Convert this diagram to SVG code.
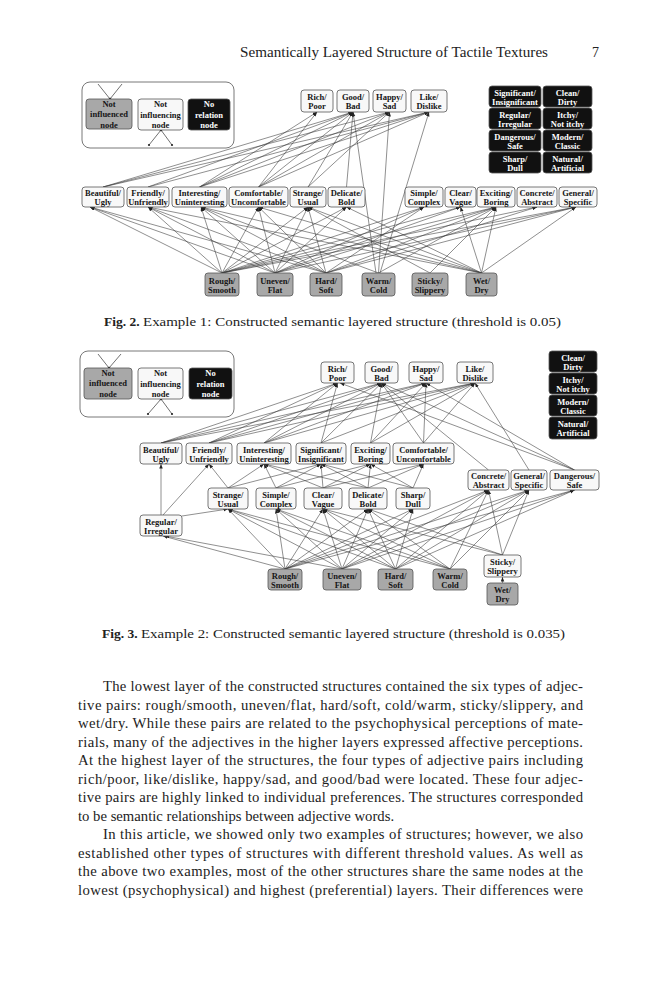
<svg xmlns="http://www.w3.org/2000/svg" width="659" height="1000" viewBox="0 0 659 1000">
<style>
.bg{fill:#ffffff}
.n rect{stroke:#555;stroke-width:0.8}
.w rect{fill:#f8f8f8}
.g rect{fill:#a8a8a8}
.k rect{fill:#111111}
.n text{font-family:"Liberation Serif",serif;font-weight:bold;font-size:8.5px;text-anchor:middle;fill:#151515}
.k text{fill:#ffffff}
.lg{fill:#ffffff;stroke:#555;stroke-width:0.8}
.e line{stroke:#333;stroke-width:0.55;marker-end:url(#ah)}
.lgl line{stroke:#333;stroke-width:0.7}
.lgl circle{fill:#222}
.hd{font-family:"Liberation Serif",serif;font-size:14px;fill:#222}
.cap{font-family:"Liberation Serif",serif;font-size:13.5px;fill:#222}
.cap .b{font-weight:bold}
.body{font-family:"Liberation Serif",serif;font-size:14.7px;fill:#222}
</style>
<defs>
<marker id="ah" markerUnits="userSpaceOnUse" markerWidth="5" markerHeight="4" refX="4.5" refY="1.75" orient="auto">
<path d="M0,0 L4.5,1.75 L0,3.5 z" fill="#222"/>
</marker>
</defs>
<rect class="bg" x="0" y="0" width="659" height="1000"/>

<text class="hd" x="240" y="57" textLength="308" lengthAdjust="spacingAndGlyphs">Semantically Layered Structure of Tactile Textures</text>
<text class="hd" x="592" y="57">7</text>

<!-- ================= FIG 2 ================= -->
<g id="f2-legend">
<rect class="lg" x="82" y="82" width="152" height="66" rx="8"/>
<g class="lgl">
<line x1="98" y1="84" x2="110" y2="99"/><line x1="122" y1="84" x2="110" y2="99"/>
<circle cx="110" cy="99" r="1.3"/>
<line x1="161" y1="130" x2="149" y2="145"/><line x1="161" y1="130" x2="172" y2="145"/>
<circle cx="161" cy="130" r="1.3"/><circle cx="149" cy="145" r="1.1"/><circle cx="172" cy="145" r="1.1"/>
</g>
<g id="f2-leg-gray" class="n g"><rect x="86" y="99" width="46" height="30" rx="3"/><text x="109" y="106.5">Not<tspan x="109" y="117">influenced</tspan><tspan x="109" y="127.5">node</tspan></text></g>
<g id="f2-leg-white" class="n w"><rect x="138" y="99" width="45" height="31" rx="3"/><text x="160.5" y="107">Not<tspan x="160.5" y="117.5">influencing</tspan><tspan x="160.5" y="128">node</tspan></text></g>
<g id="f2-leg-black" class="n k"><rect x="188" y="99" width="42" height="31" rx="3"/><text x="209" y="107">No<tspan x="209" y="117.5">relation</tspan><tspan x="209" y="128">node</tspan></text></g>
</g>

<g id="f2-edges" class="e">
<line x1="199.5" y1="187" x2="317" y2="112"/>
<line x1="258.5" y1="187" x2="317" y2="112"/>
<line x1="103" y1="187" x2="353" y2="112"/>
<line x1="148" y1="187" x2="353" y2="112"/>
<line x1="199.5" y1="187" x2="353" y2="112"/>
<line x1="258.5" y1="187" x2="353" y2="112"/>
<line x1="308" y1="187" x2="353" y2="112"/>
<line x1="346.5" y1="187" x2="353" y2="112"/>
<line x1="376" y1="273" x2="353" y2="112"/>
<line x1="103" y1="187" x2="389.5" y2="112"/>
<line x1="199.5" y1="187" x2="389.5" y2="112"/>
<line x1="258.5" y1="187" x2="389.5" y2="112"/>
<line x1="308" y1="187" x2="389.5" y2="112"/>
<line x1="378.5" y1="273" x2="389.5" y2="112"/>
<line x1="103" y1="187" x2="429" y2="112"/>
<line x1="148" y1="187" x2="429" y2="112"/>
<line x1="199.5" y1="187" x2="429" y2="112"/>
<line x1="258.5" y1="187" x2="429" y2="112"/>
<line x1="380" y1="273" x2="429" y2="112"/>

<line x1="222" y1="273" x2="90" y2="207"/>
<line x1="275" y1="273" x2="90" y2="207"/>
<line x1="326" y1="273" x2="90" y2="207"/>
<line x1="222" y1="273" x2="148" y2="207"/>
<line x1="275" y1="273" x2="148" y2="207"/>
<line x1="326" y1="273" x2="148" y2="207"/>
<line x1="481.5" y1="273" x2="148" y2="207"/>
<line x1="222" y1="273" x2="201" y2="207"/>
<line x1="275" y1="273" x2="201" y2="207"/>
<line x1="326" y1="273" x2="201" y2="207"/>
<line x1="378.5" y1="273" x2="201" y2="207"/>
<line x1="481.5" y1="273" x2="201" y2="207"/>
<line x1="222" y1="273" x2="258.5" y2="207"/>
<line x1="275" y1="273" x2="258.5" y2="207"/>
<line x1="326" y1="273" x2="258.5" y2="207"/>
<line x1="481.5" y1="273" x2="258.5" y2="207"/>
<line x1="222" y1="273" x2="308" y2="207"/>
<line x1="275" y1="273" x2="308" y2="207"/>
<line x1="326" y1="273" x2="308" y2="207"/>
<line x1="430" y1="273" x2="308" y2="207"/>
<line x1="481.5" y1="273" x2="308" y2="207"/>
<line x1="222" y1="273" x2="346.5" y2="207"/>
<line x1="275" y1="273" x2="346.5" y2="207"/>
<line x1="481.5" y1="273" x2="346.5" y2="207"/>
<line x1="222" y1="273" x2="424" y2="207"/>
<line x1="275" y1="273" x2="424" y2="207"/>
<line x1="326" y1="273" x2="424" y2="207"/>
<line x1="222" y1="273" x2="460.5" y2="207"/>
<line x1="275" y1="273" x2="460.5" y2="207"/>
<line x1="481.5" y1="273" x2="460.5" y2="207"/>
<line x1="222" y1="273" x2="496" y2="207"/>
<line x1="275" y1="273" x2="496" y2="207"/>
<line x1="326" y1="273" x2="496" y2="207"/>
<line x1="378.5" y1="273" x2="496" y2="207"/>
<line x1="430" y1="273" x2="496" y2="207"/>
<line x1="481.5" y1="273" x2="496" y2="207"/>
<line x1="222" y1="273" x2="537" y2="207"/>
<line x1="326" y1="273" x2="537" y2="207"/>
<line x1="222" y1="273" x2="576" y2="207"/>
<line x1="275" y1="273" x2="576" y2="207"/>
<line x1="326" y1="273" x2="576" y2="207"/>
<line x1="481.5" y1="273" x2="576" y2="207"/>
</g>

<g id="f2-rich" class="n w"><rect x="301" y="90" width="32" height="22" rx="3"/><text x="317" y="100">Rich/<tspan x="317" y="109">Poor</tspan></text></g>
<g id="f2-good" class="n w"><rect x="337" y="90" width="32" height="22" rx="3"/><text x="353" y="100">Good/<tspan x="353" y="109">Bad</tspan></text></g>
<g id="f2-happy" class="n w"><rect x="373" y="90" width="33" height="22" rx="3"/><text x="389.5" y="100">Happy/<tspan x="389.5" y="109">Sad</tspan></text></g>
<g id="f2-like" class="n w"><rect x="411" y="90" width="36" height="22" rx="3"/><text x="429" y="100">Like/<tspan x="429" y="109">Dislike</tspan></text></g>

<g id="f2-significant" class="n k"><rect x="489" y="86" width="52" height="21" rx="3"/><text x="515" y="95.5">Significant/<tspan x="515" y="104.5">Insignificant</tspan></text></g>
<g id="f2-clean" class="n k"><rect x="543" y="86" width="49" height="21" rx="3"/><text x="567.5" y="95.5">Clean/<tspan x="567.5" y="104.5">Dirty</tspan></text></g>
<g id="f2-regular" class="n k"><rect x="489" y="108" width="52" height="21" rx="3"/><text x="515" y="117.5">Regular/<tspan x="515" y="126.5">Irregular</tspan></text></g>
<g id="f2-itchy" class="n k"><rect x="543" y="108" width="49" height="21" rx="3"/><text x="567.5" y="117.5">Itchy/<tspan x="567.5" y="126.5">Not itchy</tspan></text></g>
<g id="f2-dangerous" class="n k"><rect x="489" y="130" width="52" height="21" rx="3"/><text x="515" y="139.5">Dangerous/<tspan x="515" y="148.5">Safe</tspan></text></g>
<g id="f2-modern" class="n k"><rect x="543" y="130" width="49" height="21" rx="3"/><text x="567.5" y="139.5">Modern/<tspan x="567.5" y="148.5">Classic</tspan></text></g>
<g id="f2-sharp" class="n k"><rect x="489" y="152" width="52" height="21" rx="3"/><text x="515" y="161.5">Sharp/<tspan x="515" y="170.5">Dull</tspan></text></g>
<g id="f2-natural" class="n k"><rect x="543" y="152" width="49" height="21" rx="3"/><text x="567.5" y="161.5">Natural/<tspan x="567.5" y="170.5">Artificial</tspan></text></g>

<g id="f2-beautiful" class="n w"><rect x="82" y="187" width="42" height="20" rx="3"/><text x="103" y="196">Beautiful/<tspan x="103" y="205">Ugly</tspan></text></g>
<g id="f2-friendly" class="n w"><rect x="127" y="187" width="42" height="20" rx="3"/><text x="148" y="196">Friendly/<tspan x="148" y="205">Unfriendly</tspan></text></g>
<g id="f2-interesting" class="n w"><rect x="172" y="187" width="55" height="20" rx="3"/><text x="199.5" y="196">Interesting/<tspan x="199.5" y="205">Uninteresting</tspan></text></g>
<g id="f2-comfortable" class="n w"><rect x="229" y="187" width="59" height="20" rx="3"/><text x="258.5" y="196">Comfortable/<tspan x="258.5" y="205">Uncomfortable</tspan></text></g>
<g id="f2-strange" class="n w"><rect x="290" y="187" width="36" height="20" rx="3"/><text x="308" y="196">Strange/<tspan x="308" y="205">Usual</tspan></text></g>
<g id="f2-delicate" class="n w"><rect x="328" y="187" width="37" height="20" rx="3"/><text x="346.5" y="196">Delicate/<tspan x="346.5" y="205">Bold</tspan></text></g>
<g id="f2-simple" class="n w"><rect x="405" y="187" width="38" height="20" rx="3"/><text x="424" y="196">Simple/<tspan x="424" y="205">Complex</tspan></text></g>
<g id="f2-clear" class="n w"><rect x="445" y="187" width="31" height="20" rx="3"/><text x="460.5" y="196">Clear/<tspan x="460.5" y="205">Vague</tspan></text></g>
<g id="f2-exciting" class="n w"><rect x="477" y="187" width="38" height="20" rx="3"/><text x="496" y="196">Exciting/<tspan x="496" y="205">Boring</tspan></text></g>
<g id="f2-concrete" class="n w"><rect x="517" y="187" width="40" height="20" rx="3"/><text x="537" y="196">Concrete/<tspan x="537" y="205">Abstract</tspan></text></g>
<g id="f2-general" class="n w"><rect x="559" y="187" width="38" height="20" rx="3"/><text x="578" y="196">General/<tspan x="578" y="205">Specific</tspan></text></g>

<g id="f2-rough" class="n g"><rect x="205" y="273" width="34" height="23" rx="3"/><text x="222" y="283.5">Rough/<tspan x="222" y="292.5">Smooth</tspan></text></g>
<g id="f2-uneven" class="n g"><rect x="257" y="273" width="36" height="23" rx="3"/><text x="275" y="283.5">Uneven/<tspan x="275" y="292.5">Flat</tspan></text></g>
<g id="f2-hard" class="n g"><rect x="310" y="273" width="32" height="23" rx="3"/><text x="326" y="283.5">Hard/<tspan x="326" y="292.5">Soft</tspan></text></g>
<g id="f2-warm" class="n g"><rect x="362" y="273" width="33" height="23" rx="3"/><text x="378.5" y="283.5">Warm/<tspan x="378.5" y="292.5">Cold</tspan></text></g>
<g id="f2-sticky" class="n g"><rect x="412" y="273" width="36" height="23" rx="3"/><text x="430" y="283.5">Sticky/<tspan x="430" y="292.5">Slippery</tspan></text></g>
<g id="f2-wet" class="n g"><rect x="466" y="273" width="31" height="23" rx="3"/><text x="481.5" y="283.5">Wet/<tspan x="481.5" y="292.5">Dry</tspan></text></g>

<text class="cap" x="104" y="326"><tspan class="b">Fig. 2.</tspan> <tspan textLength="418" lengthAdjust="spacingAndGlyphs">Example 1: Constructed semantic layered structure (threshold is 0.05)</tspan></text>

<!-- ================= FIG 3 ================= -->
<g id="f3-legend">
<rect class="lg" x="80" y="351" width="154" height="66" rx="8"/>
<g class="lgl">
<line x1="98" y1="354" x2="109" y2="368"/><line x1="121" y1="354" x2="109" y2="368"/>
<circle cx="109" cy="368" r="1.3"/>
<line x1="161" y1="399" x2="148" y2="414"/><line x1="161" y1="399" x2="172" y2="414"/>
<circle cx="161" cy="399" r="1.3"/><circle cx="148" cy="414" r="1.1"/><circle cx="172" cy="414" r="1.1"/>
</g>
<g id="f3-leg-gray" class="n g"><rect x="84" y="368" width="48" height="31" rx="3"/><text x="108" y="375.5">Not<tspan x="108" y="386">influenced</tspan><tspan x="108" y="396.5">node</tspan></text></g>
<g id="f3-leg-white" class="n w"><rect x="138" y="368" width="45" height="31" rx="3"/><text x="160.5" y="376">Not<tspan x="160.5" y="386.5">influencing</tspan><tspan x="160.5" y="397">node</tspan></text></g>
<g id="f3-leg-black" class="n k"><rect x="189" y="368" width="43" height="31" rx="3"/><text x="210.5" y="376">No<tspan x="210.5" y="386.5">relation</tspan><tspan x="210.5" y="397">node</tspan></text></g>
</g>

<g id="f3-edges" class="e">
<line x1="161" y1="443" x2="337.5" y2="383"/>
<line x1="209" y1="443" x2="337.5" y2="383"/>
<line x1="264" y1="443" x2="337.5" y2="383"/>
<line x1="321" y1="443" x2="337.5" y2="383"/>
<line x1="574.5" y1="470" x2="340" y2="383"/>
<line x1="161" y1="443" x2="381.5" y2="383"/>
<line x1="209" y1="443" x2="381.5" y2="383"/>
<line x1="264" y1="443" x2="381.5" y2="383"/>
<line x1="321" y1="443" x2="381.5" y2="383"/>
<line x1="370.5" y1="443" x2="381.5" y2="383"/>
<line x1="423.5" y1="443" x2="381.5" y2="383"/>
<line x1="488.5" y1="470" x2="381.5" y2="383"/>
<line x1="574.5" y1="470" x2="381.5" y2="383"/>
<line x1="161" y1="443" x2="426" y2="383"/>
<line x1="209" y1="443" x2="426" y2="383"/>
<line x1="264" y1="443" x2="426" y2="383"/>
<line x1="370.5" y1="443" x2="426" y2="383"/>
<line x1="423.5" y1="443" x2="426" y2="383"/>
<line x1="574.5" y1="470" x2="426" y2="383"/>
<line x1="161" y1="443" x2="475" y2="383"/>
<line x1="209" y1="443" x2="475" y2="383"/>
<line x1="264" y1="443" x2="475" y2="383"/>
<line x1="321" y1="443" x2="475" y2="383"/>
<line x1="370.5" y1="443" x2="475" y2="383"/>
<line x1="423.5" y1="443" x2="475" y2="383"/>
<line x1="529" y1="470" x2="475" y2="383"/>

<line x1="161" y1="515" x2="161" y2="464"/>
<line x1="163" y1="515" x2="209" y2="464"/>
<line x1="228" y1="488" x2="209" y2="464"/>
<line x1="228" y1="488" x2="264" y2="464"/>
<line x1="276" y1="488" x2="264" y2="464"/>
<line x1="323" y1="488" x2="264" y2="464"/>
<line x1="368" y1="488" x2="264" y2="464"/>
<line x1="228" y1="488" x2="321" y2="464"/>
<line x1="276" y1="488" x2="321" y2="464"/>
<line x1="323" y1="488" x2="321" y2="464"/>
<line x1="368" y1="488" x2="321" y2="464"/>
<line x1="413" y1="488" x2="321" y2="464"/>
<line x1="276" y1="488" x2="370.5" y2="464"/>
<line x1="323" y1="488" x2="370.5" y2="464"/>
<line x1="368" y1="488" x2="370.5" y2="464"/>
<line x1="413" y1="488" x2="370.5" y2="464"/>
<line x1="323" y1="488" x2="423.5" y2="464"/>
<line x1="368" y1="488" x2="423.5" y2="464"/>
<line x1="413" y1="488" x2="423.5" y2="464"/>

<line x1="182" y1="516" x2="228" y2="509"/>
<line x1="285" y1="569" x2="163" y2="536"/>
<line x1="342" y1="569" x2="165" y2="536"/>
<line x1="285" y1="569" x2="228" y2="509"/>
<line x1="342" y1="569" x2="228" y2="509"/>
<line x1="395.5" y1="569" x2="228" y2="509"/>
<line x1="450" y1="569" x2="228" y2="509"/>
<line x1="285" y1="569" x2="276" y2="509"/>
<line x1="342" y1="569" x2="276" y2="509"/>
<line x1="395.5" y1="569" x2="276" y2="509"/>
<line x1="450" y1="569" x2="276" y2="509"/>
<line x1="285" y1="569" x2="323" y2="509"/>
<line x1="342" y1="569" x2="323" y2="509"/>
<line x1="395.5" y1="569" x2="323" y2="509"/>
<line x1="450" y1="569" x2="323" y2="509"/>
<line x1="502.5" y1="555" x2="323" y2="509"/>
<line x1="285" y1="569" x2="368" y2="509"/>
<line x1="342" y1="569" x2="368" y2="509"/>
<line x1="395.5" y1="569" x2="368" y2="509"/>
<line x1="450" y1="569" x2="368" y2="509"/>
<line x1="502.5" y1="555" x2="368" y2="509"/>
<line x1="285" y1="569" x2="413" y2="509"/>
<line x1="342" y1="569" x2="413" y2="509"/>
<line x1="395.5" y1="569" x2="413" y2="509"/>
<line x1="285" y1="569" x2="488.5" y2="490"/>
<line x1="342" y1="569" x2="488.5" y2="490"/>
<line x1="395.5" y1="569" x2="488.5" y2="490"/>
<line x1="450" y1="569" x2="488.5" y2="490"/>
<line x1="502.5" y1="555" x2="488.5" y2="490"/>
<line x1="285" y1="569" x2="529" y2="490"/>
<line x1="342" y1="569" x2="529" y2="490"/>
<line x1="395.5" y1="569" x2="529" y2="490"/>
<line x1="450" y1="569" x2="529" y2="490"/>
<line x1="502.5" y1="555" x2="529" y2="490"/>
<line x1="285" y1="569" x2="574.5" y2="490"/>
<line x1="342" y1="569" x2="574.5" y2="490"/>
<line x1="395.5" y1="569" x2="574.5" y2="490"/>
<line x1="502.5" y1="583" x2="502.5" y2="577"/>
</g>

<g id="f3-rich" class="n w"><rect x="321" y="362" width="33" height="21" rx="3"/><text x="337.5" y="371.5">Rich/<tspan x="337.5" y="380.5">Poor</tspan></text></g>
<g id="f3-good" class="n w"><rect x="365" y="362" width="33" height="21" rx="3"/><text x="381.5" y="371.5">Good/<tspan x="381.5" y="380.5">Bad</tspan></text></g>
<g id="f3-happy" class="n w"><rect x="409" y="362" width="34" height="21" rx="3"/><text x="426" y="371.5">Happy/<tspan x="426" y="380.5">Sad</tspan></text></g>
<g id="f3-like" class="n w"><rect x="457" y="362" width="36" height="21" rx="3"/><text x="475" y="371.5">Like/<tspan x="475" y="380.5">Dislike</tspan></text></g>

<g id="f3-clean" class="n k"><rect x="549" y="351" width="48" height="21" rx="3"/><text x="573" y="360.5">Clean/<tspan x="573" y="369.5">Dirty</tspan></text></g>
<g id="f3-itchy" class="n k"><rect x="549" y="373" width="48" height="21" rx="3"/><text x="573" y="382.5">Itchy/<tspan x="573" y="391.5">Not itchy</tspan></text></g>
<g id="f3-modern" class="n k"><rect x="549" y="395" width="48" height="21" rx="3"/><text x="573" y="404.5">Modern/<tspan x="573" y="413.5">Classic</tspan></text></g>
<g id="f3-natural" class="n k"><rect x="549" y="417" width="48" height="22" rx="3"/><text x="573" y="427">Natural/<tspan x="573" y="436">Artificial</tspan></text></g>

<g id="f3-beautiful" class="n w"><rect x="140" y="443" width="42" height="21" rx="3"/><text x="161" y="452.5">Beautiful/<tspan x="161" y="461.5">Ugly</tspan></text></g>
<g id="f3-friendly" class="n w"><rect x="186" y="443" width="46" height="21" rx="3"/><text x="209" y="452.5">Friendly/<tspan x="209" y="461.5">Unfriendly</tspan></text></g>
<g id="f3-interesting" class="n w"><rect x="237" y="443" width="54" height="21" rx="3"/><text x="264" y="452.5">Interesting/<tspan x="264" y="461.5">Uninteresting</tspan></text></g>
<g id="f3-significant" class="n w"><rect x="296" y="443" width="50" height="21" rx="3"/><text x="321" y="452.5">Significant/<tspan x="321" y="461.5">Insignificant</tspan></text></g>
<g id="f3-exciting" class="n w"><rect x="351" y="443" width="39" height="21" rx="3"/><text x="370.5" y="452.5">Exciting/<tspan x="370.5" y="461.5">Boring</tspan></text></g>
<g id="f3-comfortable" class="n w"><rect x="393" y="443" width="61" height="21" rx="3"/><text x="423.5" y="452.5">Comfortable/<tspan x="423.5" y="461.5">Uncomfortable</tspan></text></g>

<g id="f3-concrete" class="n w"><rect x="468" y="470" width="41" height="20" rx="3"/><text x="488.5" y="479">Concrete/<tspan x="488.5" y="488">Abstract</tspan></text></g>
<g id="f3-general" class="n w"><rect x="511" y="470" width="36" height="20" rx="3"/><text x="529" y="479">General/<tspan x="529" y="488">Specific</tspan></text></g>
<g id="f3-dangerous" class="n w"><rect x="550" y="470" width="49" height="20" rx="3"/><text x="574.5" y="479">Dangerous/<tspan x="574.5" y="488">Safe</tspan></text></g>

<g id="f3-strange" class="n w"><rect x="208" y="488" width="40" height="21" rx="3"/><text x="228" y="497.5">Strange/<tspan x="228" y="506.5">Usual</tspan></text></g>
<g id="f3-simple" class="n w"><rect x="256" y="488" width="40" height="21" rx="3"/><text x="276" y="497.5">Simple/<tspan x="276" y="506.5">Complex</tspan></text></g>
<g id="f3-clear" class="n w"><rect x="304" y="488" width="38" height="21" rx="3"/><text x="323" y="497.5">Clear/<tspan x="323" y="506.5">Vague</tspan></text></g>
<g id="f3-delicate" class="n w"><rect x="349" y="488" width="38" height="21" rx="3"/><text x="368" y="497.5">Delicate/<tspan x="368" y="506.5">Bold</tspan></text></g>
<g id="f3-sharp" class="n w"><rect x="396" y="488" width="34" height="21" rx="3"/><text x="413" y="497.5">Sharp/<tspan x="413" y="506.5">Dull</tspan></text></g>
<g id="f3-regular" class="n w"><rect x="140" y="515" width="42" height="21" rx="3"/><text x="161" y="524.5">Regular/<tspan x="161" y="533.5">Irregular</tspan></text></g>

<g id="f3-rough" class="n g"><rect x="268" y="569" width="34" height="21" rx="3"/><text x="285" y="578.5">Rough/<tspan x="285" y="587.5">Smooth</tspan></text></g>
<g id="f3-uneven" class="n g"><rect x="323" y="569" width="38" height="21" rx="3"/><text x="342" y="578.5">Uneven/<tspan x="342" y="587.5">Flat</tspan></text></g>
<g id="f3-hard" class="n g"><rect x="378" y="569" width="35" height="21" rx="3"/><text x="395.5" y="578.5">Hard/<tspan x="395.5" y="587.5">Soft</tspan></text></g>
<g id="f3-warm" class="n g"><rect x="433" y="569" width="34" height="21" rx="3"/><text x="450" y="578.5">Warm/<tspan x="450" y="587.5">Cold</tspan></text></g>
<g id="f3-sticky" class="n w"><rect x="484" y="555" width="37" height="22" rx="3"/><text x="502.5" y="565">Sticky/<tspan x="502.5" y="574">Slippery</tspan></text></g>
<g id="f3-wet" class="n g"><rect x="487" y="583" width="31" height="22" rx="3"/><text x="502.5" y="593">Wet/<tspan x="502.5" y="602">Dry</tspan></text></g>

<text class="cap" x="102" y="638"><tspan class="b">Fig. 3.</tspan> <tspan textLength="424" lengthAdjust="spacingAndGlyphs">Example 2: Constructed semantic layered structure (threshold is 0.035)</tspan></text>

<!-- ================= BODY ================= -->
<g class="body">
<text x="103" y="691" textLength="480" lengthAdjust="spacing">The lowest layer of the constructed structures contained the six types of adjec-</text>
<text x="78" y="709.5" textLength="505" lengthAdjust="spacing">tive pairs: rough/smooth, uneven/flat, hard/soft, cold/warm, sticky/slippery, and</text>
<text x="78" y="728" textLength="505" lengthAdjust="spacing">wet/dry. While these pairs are related to the psychophysical perceptions of mate-</text>
<text x="78" y="746.5" textLength="505" lengthAdjust="spacing">rials, many of the adjectives in the higher layers expressed affective perceptions.</text>
<text x="78" y="765" textLength="505" lengthAdjust="spacing">At the highest layer of the structures, the four types of adjective pairs including</text>
<text x="78" y="783.5" textLength="505" lengthAdjust="spacing">rich/poor, like/dislike, happy/sad, and good/bad were located. These four adjec-</text>
<text x="78" y="802" textLength="505" lengthAdjust="spacing">tive pairs are highly linked to individual preferences. The structures corresponded</text>
<text x="78" y="820.5">to be semantic relationships between adjective words.</text>
<text x="103" y="839" textLength="480" lengthAdjust="spacing">In this article, we showed only two examples of structures; however, we also</text>
<text x="78" y="857.5" textLength="505" lengthAdjust="spacing">established other types of structures with different threshold values. As well as</text>
<text x="78" y="876" textLength="505" lengthAdjust="spacing">the above two examples, most of the other structures share the same nodes at the</text>
<text x="78" y="894.5" textLength="505" lengthAdjust="spacing">lowest (psychophysical) and highest (preferential) layers. Their differences were</text>
</g>
</svg>
